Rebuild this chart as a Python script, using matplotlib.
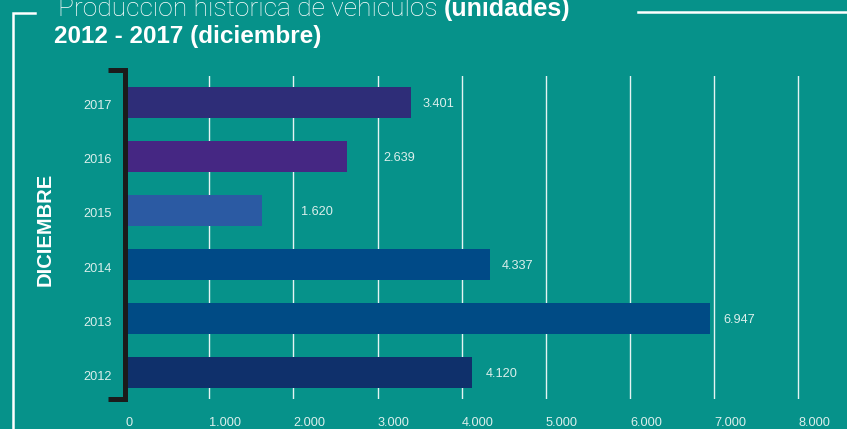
import matplotlib
matplotlib.use("Agg")
import matplotlib.pyplot as plt
from matplotlib.lines import Line2D
from matplotlib.transforms import blended_transform_factory, offset_copy
from matplotlib import font_manager as fm

# ---- data ----
years = ["2012", "2013", "2014", "2015", "2016", "2017"]
units = [4120, 6947, 4337, 1620, 2639, 3401]
bar_colors = ["#0f306b", "#004b85", "#004a87", "#2b5aa3", "#452783", "#2e2d78"]
x_ticks = [0, 1000, 2000, 3000, 4000, 5000, 6000, 7000, 8000]
title_light = "Producción histórica de vehículos "
title_bold = "(unidades)"
subtitle = "2012 - 2017 (diciembre)"
side_label = "DICIEMBRE"

# style: label offsets (pixels) to the right of each bar end
label_pad_px = [14, 14, 12, 39, 36.6, 10.7]

W, H = 847, 429
BG = "#06928a"
TXT = "#dcefec"

names = {f.name for f in fm.fontManager.ttflist}
narrow = "Liberation Sans Narrow" if "Liberation Sans Narrow" in names else "Liberation Sans"
light_family = "Roboto" if "Roboto" in names else "DejaVu Sans"
tick_size = 10.5 if narrow == "Liberation Sans Narrow" else 9.2


def fmt(v):
    return f"{v:,}".replace(",", ".")


fig = plt.figure(figsize=(W / 100, H / 100), dpi=100)
fig.patch.set_facecolor(BG)

px_per_unit = (798.3 - 125.2) / 8000
xmax = 8020
left_px, top_px, bot_px = 125.2, 76, 399
right_px = left_px + xmax * px_per_unit
ax = fig.add_axes([left_px / W, 1 - bot_px / H, (right_px - left_px) / W, (bot_px - top_px) / H])
ax.set_facecolor(BG)

ypos = list(range(len(years)))
ax.barh(ypos, units, height=0.57, color=bar_colors, zorder=3)
ax.set_xlim(0, xmax)
ax.set_ylim(-0.49, 5.49)

# grid
ax.set_xticks(x_ticks)
ax.grid(axis="x", color="white", linewidth=1.0, alpha=0.9, zorder=1)
ax.grid(axis="y", visible=False)
ax.set_xticklabels([fmt(t) for t in x_ticks], fontsize=tick_size, color=TXT, family=narrow)
plt.setp(ax.get_xticklabels(), ha="left")
ax.tick_params(axis="x", length=0, pad=13.0)
ax.set_yticks([])
for s in ax.spines.values():
    s.set_visible(False)

# year labels
ytr = blended_transform_factory(ax.transAxes, ax.transData)
for y, yr in zip(ypos, years):
    ax.text(-13.5 / (right_px - left_px), y, yr, transform=offset_copy(ytr, fig=fig, y=-4, units="dots"),
            ha="right", va="center", fontsize=tick_size, color=TXT, family=narrow)

# value labels
for y, v, pad in zip(ypos, units, label_pad_px):
    ax.text(v, y, fmt(v), transform=offset_copy(ax.transData, fig=fig, x=pad, y=-1.5, units="dots"),
            ha="left", va="center", fontsize=tick_size, color=TXT, family=narrow, zorder=4)


def P(x, y):
    return (x / W, 1 - y / H)


# bracket
bx = [108, 124.5, 124.5, 108]
by = [70, 70, 398.5, 398.5]
fig.add_artist(Line2D([P(x, 0)[0] for x in bx], [P(0, y)[1] for y in by], transform=fig.transFigure,
                      color="#1b1b1b", linewidth=3.6, solid_joinstyle="miter", solid_capstyle="butt", zorder=5))

# white frame lines
fig.add_artist(Line2D([P(35, 0)[0], P(13, 0)[0], P(13, 0)[0]], [P(0, 13)[1], P(0, 13)[1], P(0, 430)[1]],
                      transform=fig.transFigure, color="white", linewidth=1.8, solid_joinstyle="miter"))
fig.add_artist(Line2D([P(638, 0)[0], P(848, 0)[0]], [P(0, 12)[1], P(0, 12)[1]],
                      transform=fig.transFigure, color="white", linewidth=1.8))

# side label
fig.text(*P(44.7, 229), side_label, rotation=90, ha="center", va="center", color="white",
         fontsize=17 if narrow == "Liberation Sans Narrow" else 14.5, fontweight="bold", family=narrow)

# titles
t1 = fig.text(*P(58, 16), title_light, ha="left", va="baseline", color="white",
              fontsize=19, fontweight="light", family=light_family)
fig.canvas.draw()
bb = t1.get_window_extent(renderer=fig.canvas.get_renderer())
fig.text(bb.x1 / W, 1 - 16 / H, title_bold, ha="left", va="baseline", color="white",
         fontsize=18, fontweight="bold", family="Liberation Sans")
fig.text(*P(54.3, 43.3), subtitle, ha="left", va="baseline", color="white",
         fontsize=17.5, fontweight="bold", family="Liberation Sans")

fig.savefig("out.png", dpi=100, facecolor=BG)
